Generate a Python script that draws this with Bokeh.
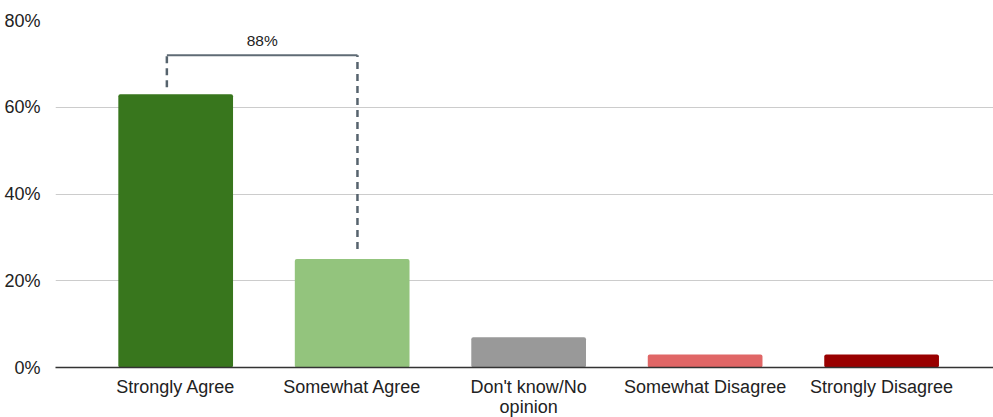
from bokeh.plotting import figure
from bokeh.models import Range1d, FixedTicker, ColumnDataSource
from bokeh.core.properties import value
from bokeh.embed import file_html
from bokeh.resources import INLINE

categories = ["Strongly Agree", "Somewhat Agree", "Don't know/No\nopinion",
              "Somewhat Disagree", "Strongly Disagree"]
values = [63, 25, 7, 3, 3]
colors = ["#38761d", "#93c47d", "#999999", "#e06666", "#990000"]
y_ticks = [0, 20, 40, 60, 80]
y_tick_labels = ["0%", "20%", "40%", "60%", "80%"]

FONT = "Liberation Sans"

p = figure(frame_width=938, frame_height=347, output_backend="svg",
           toolbar_location=None, x_range=Range1d(-0.681, 4.634),
           y_range=Range1d(0, 80))
p.min_border_left = 55
p.min_border_right = 0
p.min_border_top = 20
p.min_border_bottom = 0
p.outline_line_color = None
p.background_fill_color = "white"
p.border_fill_color = "white"

xs = list(range(len(categories)))
src = ColumnDataSource(dict(x=xs, top=values, color=colors))
p.vbar(x="x", top="top", width=0.65, bottom=0, fill_color="color",
       line_color=None, source=src, border_radius=2)

# bracket between first two bars
b_top = max(values[0], values[1]) + 9
x_left = xs[0] - 0.05
x_right = xs[1] + 0.03
p.segment(x0=[x_left, x_right], y0=[values[0] + 1.6, values[1] + 2.3],
          x1=[x_left, x_right], y1=[b_top, b_top],
          line_color="#56636d", line_width=2.5, line_dash="7 5")
p.line(x=[x_left, x_right], y=[b_top, b_top], line_color="#5f6b75", line_width=2)
p.text(x=[(x_left + x_right) / 2], y=[b_top + 3.4],
       text=[f"{values[0] + values[1]}%"], text_align="center",
       text_baseline="middle", text_font=value(FONT),
       text_font_size="15.5px", text_color="#222222")

# axes
p.xaxis.ticker = FixedTicker(ticks=xs)
p.xaxis.major_label_overrides = {i: c for i, c in enumerate(categories)}
p.xaxis.major_tick_line_color = None
p.xaxis.minor_tick_line_color = None
p.xaxis.axis_line_color = "#333333"
p.xaxis.axis_line_width = 1.3
p.xaxis.major_label_standoff = 3
p.xaxis.major_label_text_font = FONT
p.xaxis.major_label_text_font_size = "18px"
p.xaxis.major_label_text_line_height = 1.0
p.xaxis.major_label_text_color = "#222222"

p.yaxis.ticker = FixedTicker(ticks=y_ticks)
p.yaxis.major_label_overrides = {t: l for t, l in zip(y_ticks, y_tick_labels)}
p.yaxis.axis_line_color = None
p.yaxis.major_tick_line_color = None
p.yaxis.minor_tick_line_color = None
p.yaxis.major_label_standoff = 9
p.yaxis.major_label_text_font = FONT
p.yaxis.major_label_text_font_size = "18px"
p.yaxis.major_label_text_color = "#222222"

p.xgrid.grid_line_color = None
p.ygrid.grid_line_color = "#cccccc"
p.ygrid.grid_line_width = 1

open("out.html", "w").write(file_html(p, INLINE))
